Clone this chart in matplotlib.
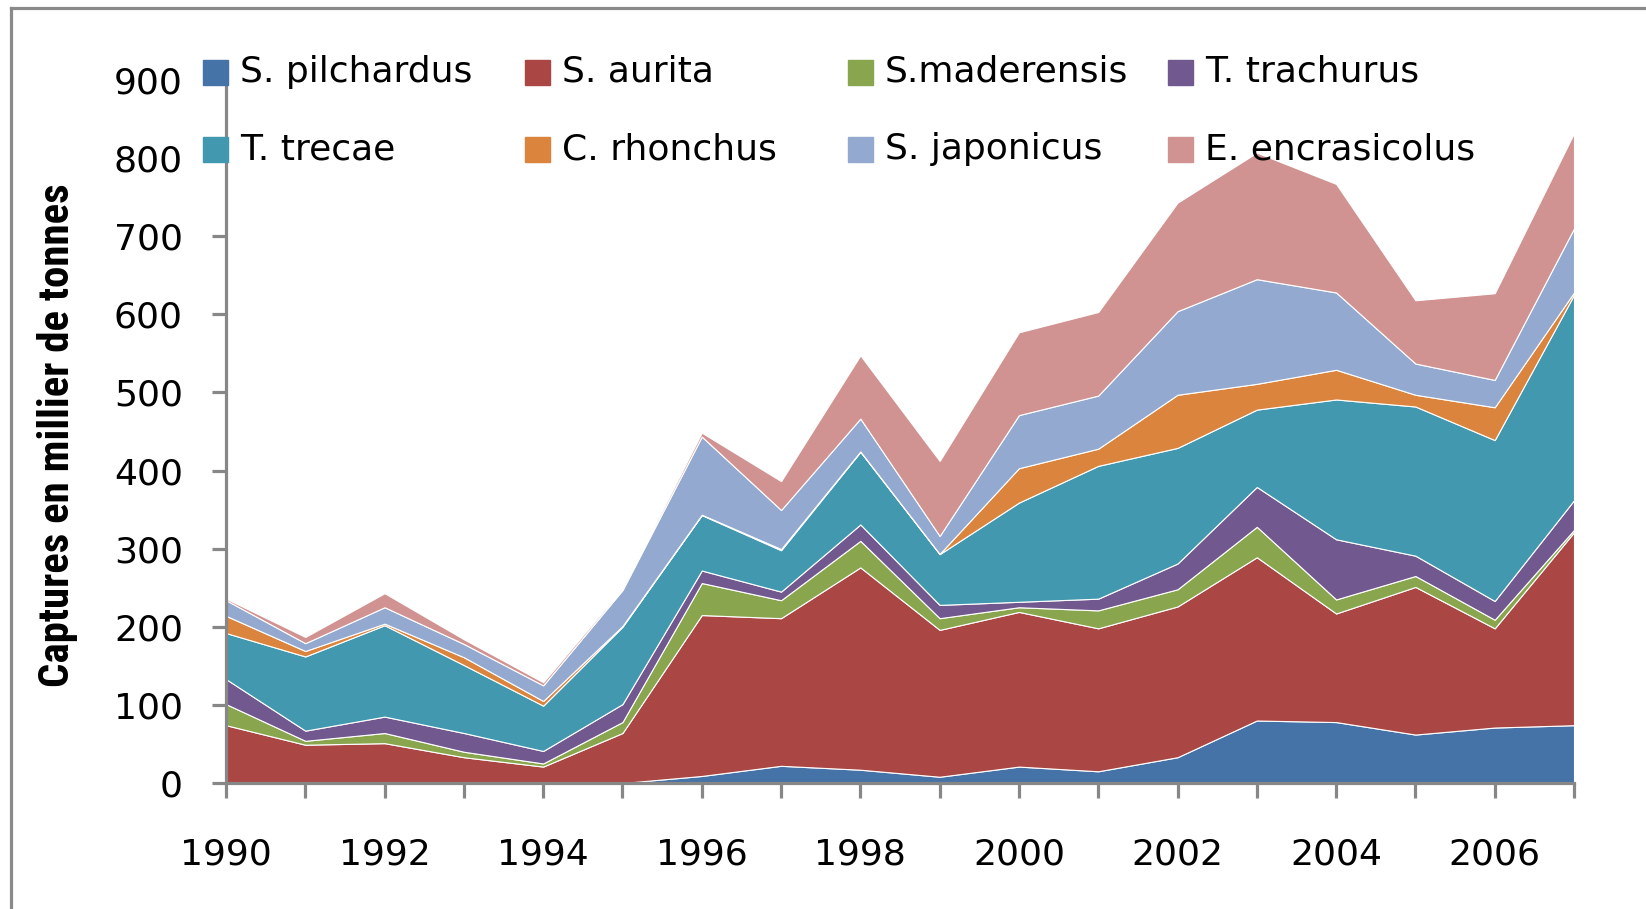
import matplotlib
matplotlib.use('Agg')
import matplotlib.pyplot as plt
from matplotlib.patches import Rectangle
from matplotlib.lines import Line2D
from matplotlib import font_manager

# catches per species, thousand tonnes
years = list(range(1990, 2008))
pilchardus = [0, 0, 0, 0, 0, 0, 9, 22, 17, 8, 21, 15, 33, 80, 78, 62, 71, 74]
aurita = [74, 49, 51, 33, 21, 64, 206, 189, 259, 188, 198, 183, 193, 209, 139, 189, 127, 247]
maderensis = [27, 5, 13, 7, 4, 14, 41, 23, 34, 15, 6, 23, 22, 39, 18, 14, 11, 3]
trachurus = [32, 13, 21, 24, 16, 23, 16, 11, 21, 17, 7, 15, 33, 51, 77, 26, 24, 38]
trecae = [59, 95, 117, 87, 58, 99, 71, 53, 93, 65, 127, 170, 148, 99, 179, 191, 206, 263]
rhonchus = [22, 7, 2, 10, 6, 1, 0.5, 1.5, 0.5, 0.3, 44, 22, 68, 33, 38, 15, 42, 3]
japonicus = [20, 10, 21, 17, 20, 46, 100, 50, 42, 23, 68, 68, 107, 134, 99, 40, 35, 82]
encrasicolus = [2, 8, 18, 6, 4, 2, 5, 37, 81, 96, 106, 107, 139, 162, 139, 81, 111, 122]

names = ['S. pilchardus', 'S. aurita', 'S.maderensis', 'T. trachurus',
         'T. trecae', 'C. rhonchus', 'S. japonicus', 'E. encrasicolus']
colors = ['#4572A7', '#AA4643', '#89A54E', '#71588F',
          '#4198AF', '#DB843D', '#93A9CF', '#D19392']
series = [pilchardus, aurita, maderensis, trachurus, trecae, rhonchus, japonicus, encrasicolus]

# pick a narrow bold face for the y label if one is there
installed = {f.name for f in font_manager.fontManager.ttflist}
label_font = 'DejaVu Sans'
for cand in ['Liberation Sans Narrow', 'Roboto Condensed', 'DejaVu Sans Condensed',
             'Open Sans Condensed', 'Roboto', 'Lato']:
    if cand in installed:
        label_font = cand
        break

W, H = 1646, 909
fig = plt.figure(figsize=(W / 100, H / 100), dpi=100)
ax = fig.add_axes([226 / W, 1 - 783 / H, (1574 - 226) / W, (783 - 80) / H])

ax.stackplot(years, *series, colors=colors, edgecolor='white', linewidth=0.8)

ax.set_xlim(1990, 2007)
ax.set_ylim(0, 900)
ax.set_yticks(range(0, 901, 100))
ax.set_xticks(years)
ax.set_xticklabels([str(y) if y % 2 == 0 else '' for y in years])

axcol = '#878787'
for s in ['top', 'right']:
    ax.spines[s].set_visible(False)
for s in ['left', 'bottom']:
    ax.spines[s].set_color(axcol)
    ax.spines[s].set_linewidth(2.3)
ax.tick_params(axis='both', colors=axcol, width=2.3, labelcolor='black', labelsize=26)
ax.tick_params(axis='y', length=10, pad=21)
ax.tick_params(axis='x', length=11, pad=28)

# y label, sized so it spans about the same length as the original
ylab = fig.text(58 / W, 1 - 435 / H, 'Captures en millier de tonnes', rotation=90,
                ha='center', va='center', fontsize=30, fontweight='bold', family=label_font)
fig.canvas.draw()
span = ylab.get_window_extent().height
ylab.set_fontsize(30 * 505 / span)

# legend laid out as in the original (two rows of four)
col_x = [203, 525, 848, 1168]
row_y = [72, 149]
sq = 25
for i, (name, c) in enumerate(zip(names, colors)):
    x0 = col_x[i % 4]
    yc = row_y[i // 4]
    fig.add_artist(Rectangle((x0 / W, 1 - (yc + sq / 2) / H), sq / W, sq / H,
                             transform=fig.transFigure, color=c, zorder=5))
    fig.text((x0 + 37) / W, 1 - yc / H, name, ha='left', va='center',
             fontsize=26, zorder=5)

# chart frame (left and top edges visible)
fc = '#8a8a8a'
fig.add_artist(Line2D([11 / W, 11 / W], [0, 1 - 8 / H], transform=fig.transFigure, color=fc, lw=2.3))
fig.add_artist(Line2D([11 / W, 1], [1 - 8 / H, 1 - 8 / H], transform=fig.transFigure, color=fc, lw=2.3))

fig.savefig('out.png', dpi=100)
